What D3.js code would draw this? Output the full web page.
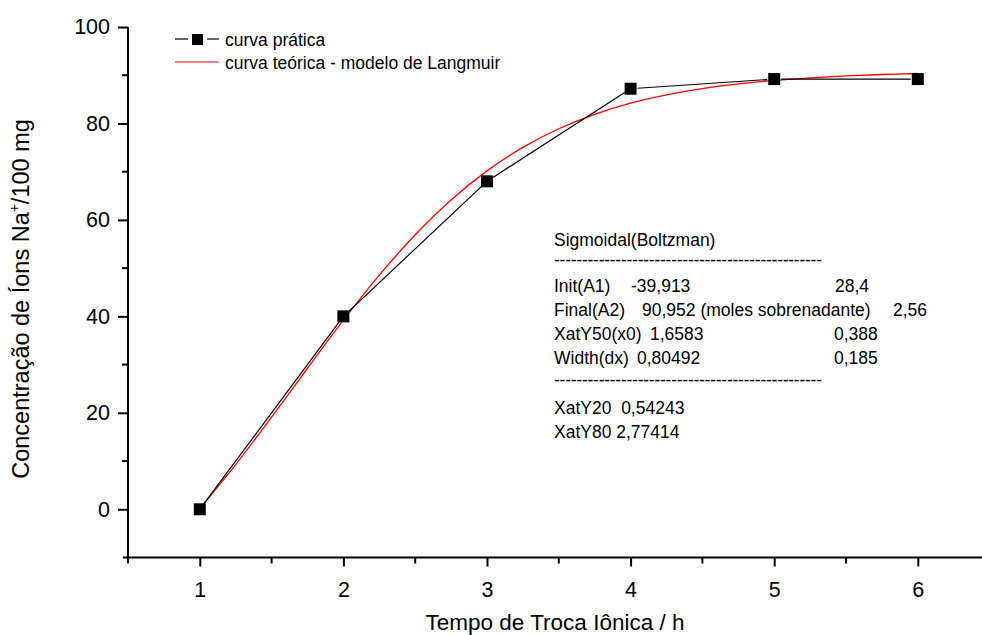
<!DOCTYPE html>
<html><head><meta charset="utf-8">
<script src="https://cdn.jsdelivr.net/npm/d3@7"></script>
<style>body{margin:0;background:#fff}svg{display:block}text{font-family:"Liberation Sans",Arial,sans-serif;fill:#000}</style>
</head><body><svg id="c" width="982" height="635"></svg>
<script>
// Data
const xPractical = [1, 2, 3, 4, 5, 6];
const yPractical = [0, 40, 68, 87.2, 89.2, 89.2];
const xTheory = [1, 1.25, 1.5, 1.75, 2, 2.25, 2.5, 2.75, 3, 3.25, 3.5, 3.75, 4, 4.25, 4.5, 4.75, 5, 5.25, 5.5, 5.75, 6];
const yTheory = [0.16, 9.27, 19.1, 29.24, 39.2, 48.54, 56.92, 64.15, 70.17, 75.04, 78.9, 81.89, 84.19, 85.92, 87.23, 88.2, 88.92, 89.46, 89.86, 90.15, 90.36];
const xTicks = [1, 2, 3, 4, 5, 6];
const yTicks = [0, 20, 40, 60, 80, 100];
const legendLabels = ["curva prática", "curva teórica - modelo de Langmuir"];
const fitTitle = "Sigmoidal(Boltzman)";
const fitRows = [
  ["Init(A1)", "-39,913", "28,4"],
  ["Final(A2)", "90,952 (moles sobrenadante)", "2,56"],
  ["XatY50(x0)", "1,6583", "0,388"],
  ["Width(dx)", "0,80492", "0,185"]
];
const fitExtra = ["XatY20  0,54243", "XatY80 2,77414"];

const FONT = "Liberation Sans, Arial, sans-serif";
const svg = d3.select("#c");
const x = d3.scaleLinear().domain([0.5, 6.5]).range([128, 989.6]);
const y = d3.scaleLinear().domain([-10, 100]).range([557.5, 27]);

// axes
const xAxis = d3.axisBottom(x).tickValues(xTicks).tickSize(9).tickPadding(15).tickFormat(d3.format("d"));
const gx = svg.append("g").attr("transform", "translate(0,557.5)").call(xAxis);
gx.select(".domain").attr("d", `M123,0H982`).attr("stroke-width", 2);
gx.selectAll(".tick line").attr("stroke-width", 2);
gx.selectAll(".tick text").attr("font-size", 21.5).attr("font-family", FONT);
const xMinor = d3.range(0.5, 6.6, 1);
svg.append("g").selectAll("line").data(xMinor).join("line")
  .attr("x1", d => x(d)).attr("x2", d => x(d)).attr("y1", 557.5).attr("y2", 563.5)
  .attr("stroke", "#000").attr("stroke-width", 2);

const yAxis = d3.axisLeft(y).tickValues(yTicks).tickSize(10).tickPadding(8);
const gy = svg.append("g").attr("transform", "translate(128,0)").call(yAxis);
gy.select(".domain").attr("d", `M0,${y(100)}V557.5`).attr("stroke-width", 2);
gy.selectAll(".tick line").attr("stroke-width", 2);
gy.selectAll(".tick text").attr("font-size", 21.5).attr("font-family", FONT);
const yMinor = [10, 30, 50, 70, 90];
svg.append("g").selectAll("line").data(yMinor).join("line")
  .attr("x1", 122).attr("x2", 128).attr("y1", d => y(d)).attr("y2", d => y(d))
  .attr("stroke", "#000").attr("stroke-width", 2);

// titles
svg.append("text").attr("x", 555).attr("y", 630).attr("text-anchor", "middle").attr("font-size", 22.5)
  .text("Tempo de Troca Iônica / h");
const yt = svg.append("text").attr("transform", "translate(29,299) rotate(-90)").attr("text-anchor", "middle").attr("font-size", 23.5);
yt.append("tspan").text("Concentração de Íons Na");
yt.append("tspan").attr("font-size", 14).attr("dy", -10).text("+");
yt.append("tspan").attr("dy", 10).text("/100 mg");

// theoretical curve
const pts = xTheory.map((d, i) => [d, yTheory[i]]);
svg.append("path").datum(pts)
  .attr("d", d3.line().x(d => x(d[0])).y(d => y(d[1])).curve(d3.curveCatmullRom))
  .attr("fill", "none").attr("stroke", "#ff0000").attr("stroke-width", 1.3);

// practical line with gaps at markers
const pp = xPractical.map((d, i) => [x(d), y(yPractical[i])]);
const gap = 7;
const segs = d3.pairs(pp).map(([a, b]) => {
  const dx = b[0] - a[0], dy = b[1] - a[1], L = Math.hypot(dx, dy);
  return [a[0] + dx / L * gap, a[1] + dy / L * gap, b[0] - dx / L * gap, b[1] - dy / L * gap];
});
svg.append("g").selectAll("line").data(segs).join("line")
  .attr("x1", d => d[0]).attr("y1", d => d[1]).attr("x2", d => d[2]).attr("y2", d => d[3])
  .attr("stroke", "#000").attr("stroke-width", 1.2);
svg.append("g").selectAll("rect").data(pp).join("rect")
  .attr("x", d => d[0] - 6).attr("y", d => d[1] - 6).attr("width", 12).attr("height", 12).attr("fill", "#000");

// legend
const lg = svg.append("g");
lg.append("line").attr("x1", 175).attr("x2", 188).attr("y1", 39).attr("y2", 39).attr("stroke", "#000").attr("stroke-width", 1.2);
lg.append("line").attr("x1", 207).attr("x2", 219).attr("y1", 39).attr("y2", 39).attr("stroke", "#000").attr("stroke-width", 1.2);
lg.append("rect").attr("x", 192).attr("y", 34).attr("width", 11).attr("height", 11).attr("fill", "#000");
lg.append("line").attr("x1", 175).attr("x2", 219).attr("y1", 62).attr("y2", 62).attr("stroke", "#ff0000").attr("stroke-width", 1.2);
lg.selectAll("text").data(legendLabels).join("text")
  .attr("x", 225).attr("y", (d, i) => 46 + i * 23).attr("font-size", 17.5).text(d => d);

// fit annotation
const ann = svg.append("g");
ann.append("text").attr("x", 554).attr("y", 246).attr("font-size", 17.5).text(fitTitle);
const dash = "-".repeat(48);
[266, 386].forEach(yy => ann.append("text").attr("x", 554).attr("y", yy).attr("font-size", 17.5)
  .attr("textLength", 268).attr("lengthAdjust", "spacing").text(dash));
const colX = [[554, 631, 835], [554, 642, 893], [554, 650, 834], [554, 637, 834]];
fitRows.forEach((r, i) => {
  r.forEach((t, j) => ann.append("text").attr("x", colX[i][j]).attr("y", 292 + i * 24).attr("font-size", 17.5).text(t));
});
fitExtra.forEach((t, i) => ann.append("text").attr("x", 554).attr("y", 414 + i * 24).attr("font-size", 17.5)
  .style("white-space", "pre").text(t));
</script></body></html>
